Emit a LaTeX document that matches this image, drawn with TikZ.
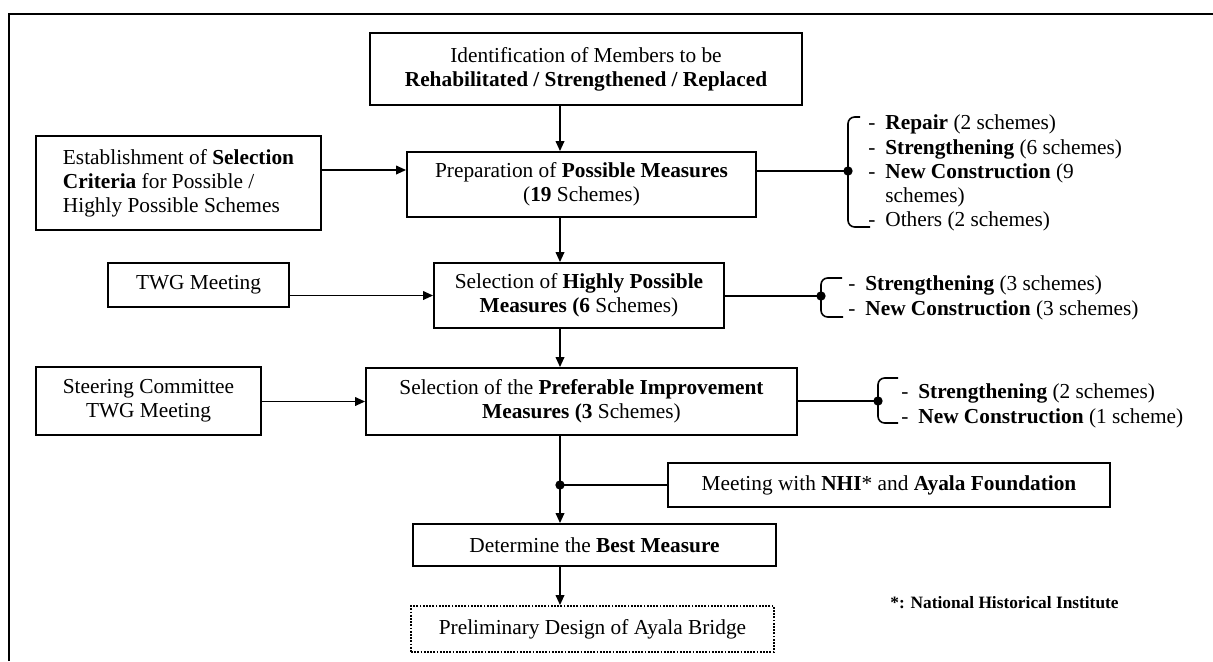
\documentclass[tikz,border=0pt]{standalone}
\usepackage{fontspec}
\setmainfont{Liberation Serif}
\usetikzlibrary{arrows.meta,calc}
\begin{document}
\begin{tikzpicture}[x=0.75pt,y=-0.75pt,
  box/.style={draw,line width=1.4pt,inner sep=0pt,align=center,font=\fontsize{16}{18}\selectfont},
  conn/.style={line width=1.2pt},
  arr/.style={conn,-{Triangle[length=7.5pt,width=6.5pt]}},
  jdot/.style={circle,fill,inner sep=0pt,minimum size=7pt},
  brk/.style={line width=1.2pt,rounded corners=5pt},
  lst/.style={inner sep=0pt,anchor=west}]
\useasboundingbox (0,0) rectangle (1213,661);
\draw[line width=1.8pt] (9,661) -- (9,14) -- (1213,14);

% main column
\node[box,minimum width=324pt,minimum height=54pt] (b1) at (586,69)
  {Identification of Members to be\\ \textbf{Rehabilitated / Strengthened / Replaced}};
\node[box,minimum width=261.75pt,minimum height=48.75pt] (b2) at (581.5,184.5)
  {Preparation of \textbf{Possible Measures}\\ (\textbf{19} Schemes)};
\node[box,minimum width=217.5pt,minimum height=48.75pt] (b3) at (579,295.5)
  {Selection of \textbf{Highly Possible}\\ \textbf{Measures (6} Schemes)};
\node[box,minimum width=323.25pt,minimum height=50.25pt] (b4) at (581.5,401.5)
  {Selection of the \textbf{Preferable Improvement}\\ \textbf{Measures (3} Schemes)};
\node[box,minimum width=331.5pt,minimum height=33pt] (meet) at (889,485)
  {Meeting with \textbf{NHI}* and \textbf{Ayala Foundation}};
\node[box,minimum width=272.25pt,minimum height=31.5pt] (det) at (594.5,545)
  {Determine the \textbf{Best Measure}};
\node[box,densely dotted,minimum width=272.25pt,minimum height=34.5pt] (prel) at (592.5,629)
  {Preliminary Design of Ayala Bridge};

% left column
\node[box,align=left,minimum width=213.75pt,minimum height=70.5pt] (est) at (178.5,183)
  {Establishment of \textbf{Selection}\\ \textbf{Criteria} for Possible /\\ Highly Possible Schemes};
\node[box,minimum width=135.75pt,minimum height=33pt] (twg) at (198.5,285) {TWG Meeting};
\node[box,minimum width=168.75pt,minimum height=51pt] (steer) at (148.5,401)
  {Steering Committee\\ TWG Meeting};

% spine
\coordinate (sp) at (560,0);
\draw[arr] (b1.south -| sp) -- (b2.north -| sp);
\draw[arr] (b2.south -| sp) -- (b3.north -| sp);
\draw[arr] (b3.south -| sp) -- (b4.north -| sp);
\coordinate (j4) at (560,485);
\draw[conn] (b4.south -| sp) -- (j4);
\draw[arr] (j4) -- (det.north -| sp);
\draw[conn] (j4) -- (meet.west);
\node[jdot] (dj4) at (j4) {};
\draw[arr] (det.south -| sp) -- (prel.north -| sp);

% inputs from the left
\coordinate (ea) at ([yshift=9.75pt]est.east);
\draw[arr] (ea) -- (ea -| b2.west);
\draw[arr] (twg.east |- b3.west) -- (b3.west);
\draw[arr] (steer.east |- b4.west) -- (b4.west);

% bracket 1
\coordinate (d1) at (848,171);
\draw[conn] (b2.east |- d1) -- (d1);
\draw[brk] (860,117) -- (848,117) -- (848,227) -- (870,227);
\node[jdot] (dd1) at (d1) {};
\node[lst,font=\fontsize{16}{18.2}\selectfont] (l1) at (868,173.6)
  {\begin{tabular}{@{}l@{\hspace{7.5pt}}l@{}}
   -&\textbf{Repair} (2 schemes)\\
   -&\textbf{Strengthening} (6 schemes)\\
   -&\textbf{New Construction} (9\\
    &schemes)\\
   -&Others (2 schemes)
   \end{tabular}};

% bracket 2
\coordinate (d2) at (821,296);
\draw[conn] (b3.east |- d2) -- (d2);
\draw[brk] (842,278) -- (821,278) -- (821,317) -- (843,317);
\node[jdot] (dd2) at (d2) {};
\node[lst,font=\fontsize{16}{18.75}\selectfont] (l2) at (848,297.5)
  {\begin{tabular}{@{}l@{\hspace{7.5pt}}l@{}}
   -&\textbf{Strengthening} (3 schemes)\\
   -&\textbf{New Construction} (3 schemes)
   \end{tabular}};

% bracket 3
\coordinate (d3) at (878,401);
\draw[conn] (b4.east |- d3) -- (d3);
\draw[brk] (898,378) -- (878,378) -- (878,423) -- (898,423);
\node[jdot] (dd3) at (d3) {};
\node[lst,font=\fontsize{16}{18.75}\selectfont] (l3) at (901,405.5)
  {\begin{tabular}{@{}l@{\hspace{7.5pt}}l@{}}
   -&\textbf{Strengthening} (2 schemes)\\
   -&\textbf{New Construction} (1 scheme)
   \end{tabular}};

% footnote
\node[inner sep=0pt,font=\bfseries\fontsize{13}{15}\selectfont] (fn) at (1004.5,603)
  {*: National Historical Institute};
\end{tikzpicture}
\end{document}
